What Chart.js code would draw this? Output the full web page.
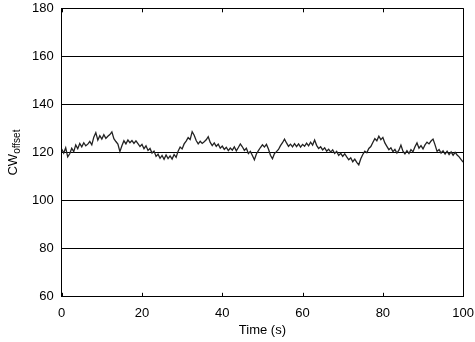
<!DOCTYPE html>
<html>
<head>
<meta charset="utf-8">
<script src="https://cdn.jsdelivr.net/npm/chart.js@4"></script>
<style>
  html, body { margin: 0; padding: 0; background: #fff; }
  #wrap { width: 475px; height: 342px; }
</style>
</head>
<body>
<div id="wrap"><canvas id="myChart" width="475" height="342"></canvas></div>
<script>
// sampling step of the recorded trace (seconds)
const timeStep = 0.5;

// CW offset, one value every 0.5 s from 0 to 100 s
const cwOffset = [
  121.5, 119.8, 122.0, 118.2, 119.5, 121.8, 120.4, 123.2, 121.6, 123.8,
  122.4, 124.1, 122.8, 123.5, 124.6, 123.2, 126.4, 128.3, 125.2, 127.0,
  125.6, 127.4, 125.9, 126.8, 127.5, 128.6, 125.8, 124.6, 123.5, 120.4,
  122.8, 124.9, 123.6, 125.2, 124.1, 125.0, 123.8, 124.9, 123.7, 122.5,
  123.4, 121.6, 122.8, 120.9, 121.7, 119.8, 120.6, 118.4, 119.3, 117.6,
  118.8, 117.2, 119.0, 117.5, 118.6, 117.3, 119.2, 118.0, 120.6, 122.3,
  121.5, 123.6, 124.8, 126.2, 125.4, 128.7, 127.2, 125.0, 123.6, 124.7,
  123.8, 124.5, 125.3, 126.6, 124.2, 122.9, 124.0, 122.6, 123.5, 121.8,
  122.7, 121.3, 122.2, 120.8, 121.9, 121.0, 122.4, 120.7, 122.1, 123.6,
  122.4, 120.9, 121.8, 119.6, 120.5, 118.8, 117.0, 119.4, 120.8, 122.1,
  123.2, 122.3, 123.4, 121.5, 118.9, 117.4, 119.6, 120.4, 121.3, 122.9,
  124.1, 125.6, 124.0, 122.6, 123.5, 122.4, 123.7, 122.5, 123.6, 122.3,
  123.4, 122.6, 123.9, 122.8, 124.3, 123.1, 125.2, 123.0, 121.7, 122.4,
  121.1, 122.0, 120.6, 121.4, 120.2, 121.1, 119.6, 120.5, 118.8, 119.7,
  118.4, 119.5, 118.2, 117.0, 117.8, 116.2, 117.3, 115.9, 114.9, 117.4,
  119.2, 120.6, 119.9, 121.7, 122.5, 124.2, 125.8, 124.9, 126.8, 125.4,
  126.3, 124.0, 122.6, 121.2, 122.0, 120.4, 121.3, 119.8, 121.0, 123.1,
  120.6, 119.5, 120.8, 119.6, 121.2, 120.3, 122.4, 124.0, 121.8, 122.9,
  121.5, 123.2, 124.3, 123.6, 124.8, 125.6, 123.2, 120.5, 121.3, 119.8,
  120.7, 119.4, 120.6, 119.2, 120.3, 118.9, 120.1, 119.0, 118.2, 117.1,
  116.0
];

const xTicks = [0, 20, 40, 60, 80, 100];
const yTicks = [60, 80, 100, 120, 140, 160, 180];

const points = cwOffset.map((v, i) => ({ x: i * timeStep, y: v }));

const fontFamily = "'Liberation Sans', Arial, Helvetica, sans-serif";

// right border, inward tick marks on top and bottom edges, rotated y title with subscript
const decorations = {
  id: 'decorations',
  afterDraw(chart) {
    const c = chart.ctx;
    const area = chart.chartArea;
    const xs = chart.scales.x;
    c.save();
    c.strokeStyle = '#000';
    c.lineWidth = 1;
    c.beginPath();
    const rx = Math.round(area.right) + 0.5;
    c.moveTo(rx, area.top);
    c.lineTo(rx, area.bottom);
    xTicks.forEach(t => {
      const px = Math.round(xs.getPixelForValue(t)) + 0.5;
      c.moveTo(px, area.bottom);
      c.lineTo(px, area.bottom - 4);
      c.moveTo(px, area.top);
      c.lineTo(px, area.top + 4);
    });
    c.stroke();

    // y title: CW with subscript "offset"
    const cy = (area.top + area.bottom) / 2;
    c.translate(17, cy);
    c.rotate(-Math.PI / 2);
    c.fillStyle = '#000';
    c.textBaseline = 'alphabetic';
    c.font = '13px ' + fontFamily;
    const w1 = c.measureText('CW').width;
    c.font = '10px ' + fontFamily;
    const w2 = c.measureText('offset').width;
    const start = -(w1 + w2) / 2;
    c.font = '13px ' + fontFamily;
    c.fillText('CW', start, 0);
    c.font = '10px ' + fontFamily;
    c.fillText('offset', start + w1, 3);
    c.restore();
  }
};

var ctx = document.getElementById('myChart').getContext('2d');
var myChart = new Chart(ctx, {
  type: 'line',
  data: {
    datasets: [{
      data: points,
      borderColor: '#222',
      borderWidth: 1.3,
      pointRadius: 0,
      tension: 0,
      fill: false
    }]
  },
  options: {
    responsive: false,
    animation: false,
    layout: { padding: { left: 24, right: 7, top: 0, bottom: 0 } },
    plugins: {
      legend: { display: false },
      tooltip: { enabled: false }
    },
    scales: {
      x: {
        type: 'linear',
        min: 0,
        max: 100,
        afterBuildTicks: axis => { axis.ticks = xTicks.map(v => ({ value: v })); },
        ticks: { color: '#000', font: { size: 13, family: fontFamily }, padding: 1, maxRotation: 0 },
        grid: { display: false },
        border: { display: true, color: '#000', width: 1 },
        title: {
          display: true,
          text: 'Time (s)',
          color: '#000',
          font: { size: 13, family: fontFamily },
          padding: { top: 0, bottom: 4 }
        }
      },
      y: {
        min: 60,
        max: 180,
        afterBuildTicks: axis => { axis.ticks = yTicks.map(v => ({ value: v })); },
        ticks: { color: '#000', font: { size: 13, family: fontFamily, lineHeight: 0.05 }, padding: 8 },
        grid: { color: '#000', lineWidth: 1, drawTicks: false },
        border: { display: true, color: '#000', width: 1 }
      }
    }
  },
  plugins: [decorations]
});
</script>
</body>
</html>
